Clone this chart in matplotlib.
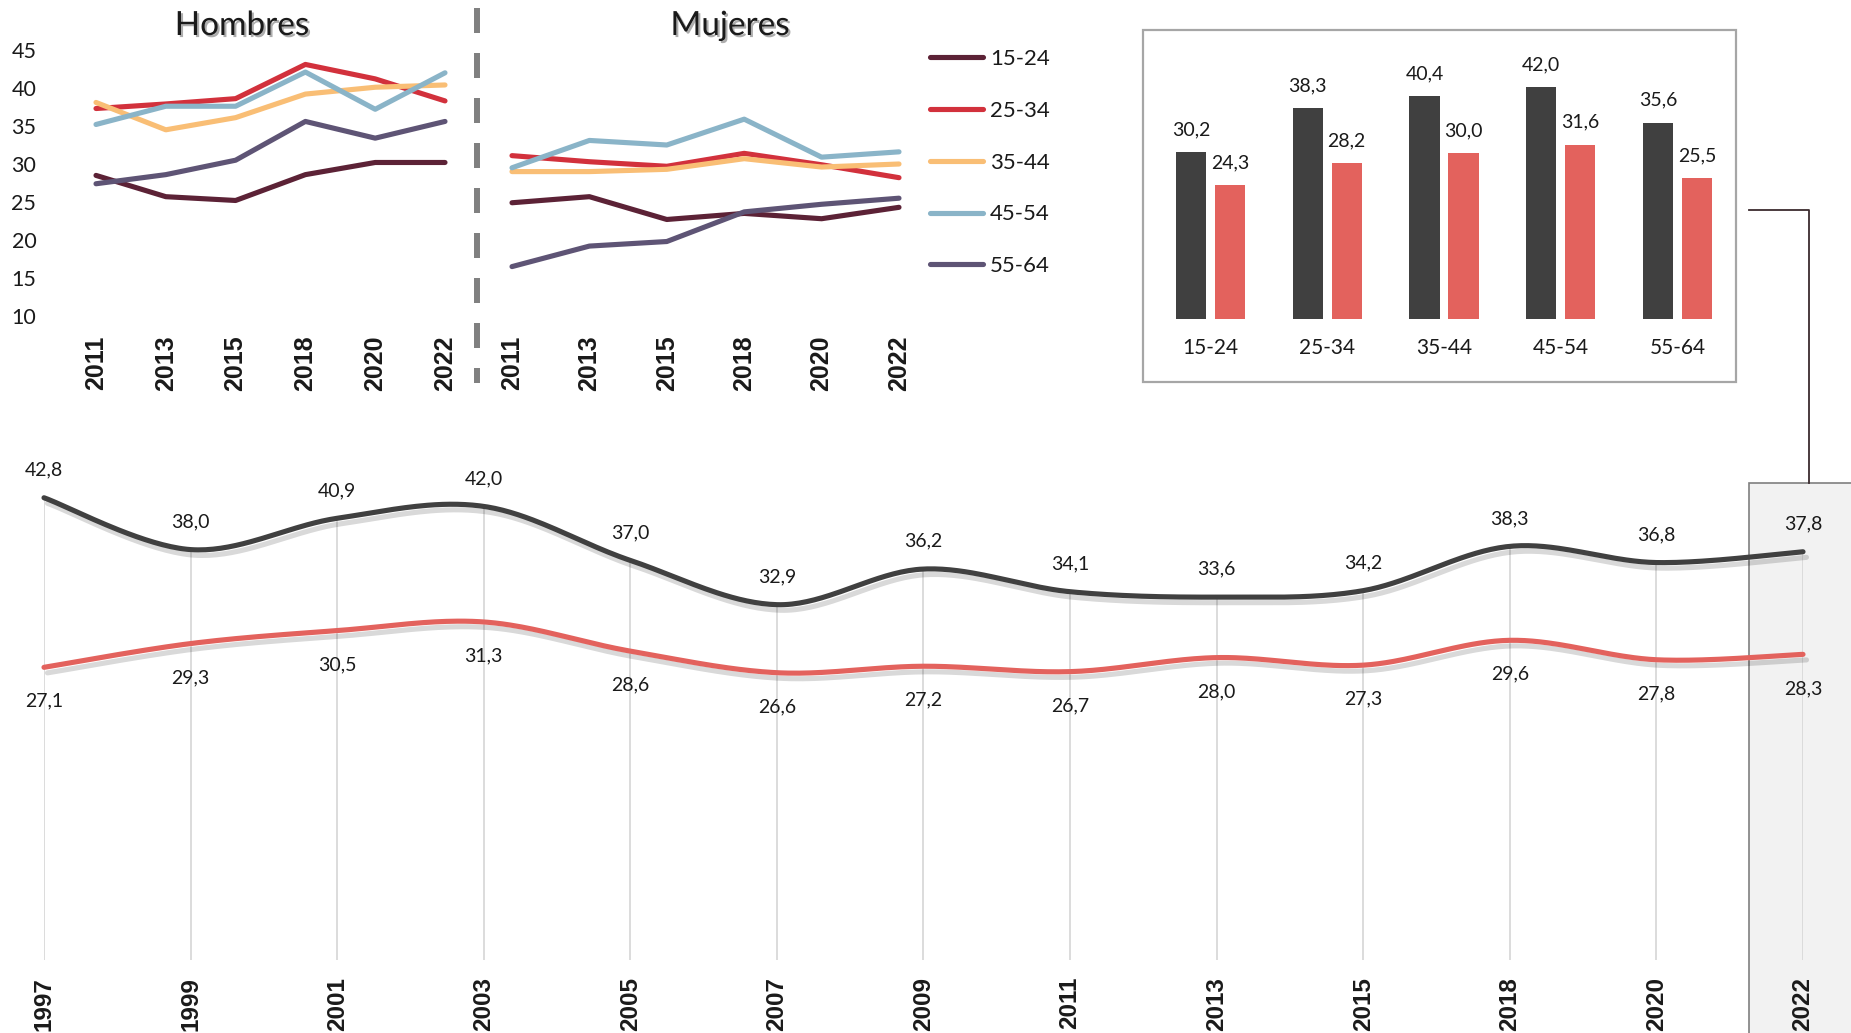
import numpy as np
import matplotlib
matplotlib.use("Agg")
import matplotlib.pyplot as plt
import matplotlib.patheffects as pe
from matplotlib.patches import Rectangle
from matplotlib.lines import Line2D

plt.rcParams['font.family'] = ['Lato', 'DejaVu Sans']
plt.rcParams['lines.scale_dashes'] = False

# ---------------- data ----------------
sm_years = ["2011", "2013", "2015", "2018", "2020", "2022"]
age_groups = ["15-24", "25-34", "35-44", "45-54", "55-64"]
age_colors = ["#5C2236", "#D2313C", "#F9BE75", "#8AB4C8", "#5E5475"]

hombres_15_24 = [28.5, 25.7, 25.2, 28.6, 30.2, 30.2]
hombres_25_34 = [37.3, 37.9, 38.6, 43.1, 41.2, 38.3]
hombres_35_44 = [38.1, 34.5, 36.1, 39.2, 40.1, 40.4]
hombres_45_54 = [35.2, 37.6, 37.6, 42.1, 37.2, 42.0]
hombres_55_64 = [27.4, 28.6, 30.5, 35.6, 33.4, 35.6]

mujeres_15_24 = [24.9, 25.7, 22.7, 23.5, 22.8, 24.3]
mujeres_25_34 = [31.1, 30.3, 29.7, 31.4, 29.9, 28.2]
mujeres_35_44 = [29.0, 29.0, 29.3, 30.7, 29.6, 30.0]
mujeres_45_54 = [29.5, 33.1, 32.5, 35.9, 30.9, 31.6]
mujeres_55_64 = [16.5, 19.2, 19.8, 23.7, 24.7, 25.5]

sm_yticks = [10, 15, 20, 25, 30, 35, 40, 45]

bar_men_2022 = [30.2, 38.3, 40.4, 42.0, 35.6]
bar_women_2022 = [24.3, 28.2, 30.0, 31.6, 25.5]

years = ["1997", "1999", "2001", "2003", "2005", "2007", "2009",
         "2011", "2013", "2015", "2018", "2020", "2022"]
total_men = [42.8, 38.0, 40.9, 42.0, 37.0, 32.9, 36.2, 34.1, 33.6, 34.2, 38.3, 36.8, 37.8]
total_women = [27.1, 29.3, 30.5, 31.3, 28.6, 26.6, 27.2, 26.7, 28.0, 27.3, 29.6, 27.8, 28.3]

DARK = "#404040"
RED = "#E3625D"
TXT = "#1a1a1a"

W, H = 1851, 1033
fig = plt.figure(figsize=(W / 100, H / 100), dpi=100)


def px_axes(x0, y0, x1, y1, z=2):
    ax = fig.add_axes([x0 / W, 1 - y1 / H, (x1 - x0) / W, (y1 - y0) / H])
    ax.set_facecolor("none")
    ax.set_zorder(z)
    for s in ax.spines.values():
        s.set_visible(False)
    return ax


def fmt(v):
    return f"{v:.1f}".replace(".", ",")


def smooth(xs, ys, n=40):
    P = np.column_stack([xs, ys]).astype(float)
    E = np.vstack([P[0], P, P[-1]])
    outx, outy = [], []
    t = np.linspace(0, 1, n)[:, None]
    for i in range(len(P) - 1):
        p0, p1, p2, p3 = E[i], E[i + 1], E[i + 2], E[i + 3]
        c1 = p1 + (p2 - p0) / 6
        c2 = p2 - (p3 - p1) / 6
        b = ((1 - t) ** 3) * p1 + 3 * ((1 - t) ** 2) * t * c1 + 3 * (1 - t) * t ** 2 * c2 + t ** 3 * p2
        outx.extend(b[:, 0])
        outy.extend(b[:, 1])
    return np.array(outx), np.array(outy)


# ---------------- decoration layer ----------------
deco = fig.add_axes([0, 0, 1, 1])
deco.set_xlim(0, W)
deco.set_ylim(H, 0)
deco.axis("off")
deco.set_zorder(0)
deco.add_patch(Rectangle((1749, 483), 120, 570, facecolor="#F2F2F2",
                         edgecolor="#7F7F7F", lw=1.2))
deco.add_patch(Rectangle((1143, 30), 593, 352, facecolor="none",
                         edgecolor="#A6A6A6", lw=1.6))
deco.add_line(Line2D([1749, 1809, 1809], [210, 210, 483], color="#3B2B2E", lw=1.3))
deco.add_line(Line2D([477, 477], [8, 383], color="#808080", lw=4.3,
                     dashes=(18, 14.4)))

# ---------------- small multiples ----------------
hombres = [hombres_15_24, hombres_25_34, hombres_35_44, hombres_45_54, hombres_55_64]
mujeres = [mujeres_15_24, mujeres_25_34, mujeres_35_44, mujeres_45_54, mujeres_55_64]

title_fx = [pe.withSimplePatchShadow(offset=(1.5, -1.5), shadow_rgbFace="#777777", alpha=0.6)]

for (x0, x1, data, title, tx, show_y) in [
        (96, 445, hombres, "Hombres", 242, True),
        (512, 899, mujeres, "Mujeres", 730, False)]:
    ax = px_axes(x0, 50, x1, 316)
    xs = np.arange(len(sm_years))
    for vals, col in zip(data, age_colors):
        ax.plot(xs, vals, color=col, lw=3.7, solid_capstyle="round", clip_on=False)
    ax.set_xlim(0, len(sm_years) - 1)
    ax.set_ylim(10, 45)
    ax.set_xticks(xs)
    ax.set_xticklabels(sm_years, rotation=90, fontsize=18, fontweight="bold",
                       family="Liberation Sans", color=TXT)
    ax.set_yticks(sm_yticks)
    if show_y:
        ax.set_yticklabels([str(v) for v in sm_yticks], fontsize=15.5, color=TXT)
    else:
        ax.set_yticklabels([])
    ax.tick_params(axis="x", length=0, pad=14)
    ax.tick_params(axis="y", length=0, pad=43)
    fig.text(tx / W, 1 - 26 / H, title, ha="center", va="center", fontsize=24,
             color=TXT, path_effects=title_fx)

handles = [Line2D([0], [0], color=c, lw=3.7, solid_capstyle="round") for c in age_colors]
fig.legend(handles, age_groups, loc="upper left", bbox_to_anchor=(930 / W, 1 - 49 / H),
           frameon=False, fontsize=16, labelspacing=1.43, handlelength=2.4,
           handletextpad=0.3, borderpad=0, borderaxespad=0, labelcolor=TXT)

# ---------------- bar chart ----------------
axb = px_axes(1152, 32, 1736, 319)
xb = np.arange(len(age_groups))
off, bw = 0.167, 0.257
axb.bar(xb - off, bar_men_2022, width=bw, color=DARK)
axb.bar(xb + off, bar_women_2022, width=bw, color=RED)
for i in range(len(age_groups)):
    axb.annotate(fmt(bar_men_2022[i]), (xb[i] - off, bar_men_2022[i]), xytext=(0, 16),
                 textcoords="offset points", ha="center", va="center", fontsize=14, color=TXT)
    axb.annotate(fmt(bar_women_2022[i]), (xb[i] + off, bar_women_2022[i]), xytext=(0, 16),
                 textcoords="offset points", ha="center", va="center", fontsize=14, color=TXT)
axb.set_xlim(-0.5, len(age_groups) - 0.5)
axb.set_ylim(0, 52)
axb.set_yticks([])
axb.set_xticks(xb)
axb.set_xticklabels(age_groups, fontsize=15, color=TXT)
axb.tick_params(axis="x", length=0, pad=14)

# ---------------- bottom chart ----------------
axl = px_axes(44, 474, 1803, 960, z=3)
xl = np.arange(len(years))
axl.vlines(xl, 0, total_men, color="#D9D9D9", lw=1.3, zorder=1)
shadow = [pe.SimpleLineShadow(offset=(2.5, -4), shadow_color="black", alpha=0.15),
          pe.Normal()]
sx, sy = smooth(xl, total_men)
axl.plot(sx, sy, color=DARK, lw=3.7, solid_capstyle="round", path_effects=shadow,
         zorder=3, clip_on=False)
sx, sy = smooth(xl, total_women)
axl.plot(sx, sy, color=RED, lw=3.7, solid_capstyle="round", path_effects=shadow,
         zorder=3, clip_on=False)
for i in range(len(years)):
    axl.annotate(fmt(total_men[i]), (xl[i], total_men[i]), xytext=(0, 20),
                 textcoords="offset points", ha="center", va="center", fontsize=14, color=TXT)
    axl.annotate(fmt(total_women[i]), (xl[i], total_women[i]), xytext=(0, -24.5),
                 textcoords="offset points", ha="center", va="center", fontsize=14, color=TXT)
axl.set_xlim(0, len(years) - 1)
axl.set_ylim(0, 45)
axl.set_yticks([])
axl.set_xticks(xl)
axl.set_xticklabels(years, rotation=90, fontsize=17.5, fontweight="bold",
                    family="Liberation Sans", color=TXT)
axl.tick_params(axis="x", length=0, pad=12)

fig.savefig("out.png", dpi=100)
